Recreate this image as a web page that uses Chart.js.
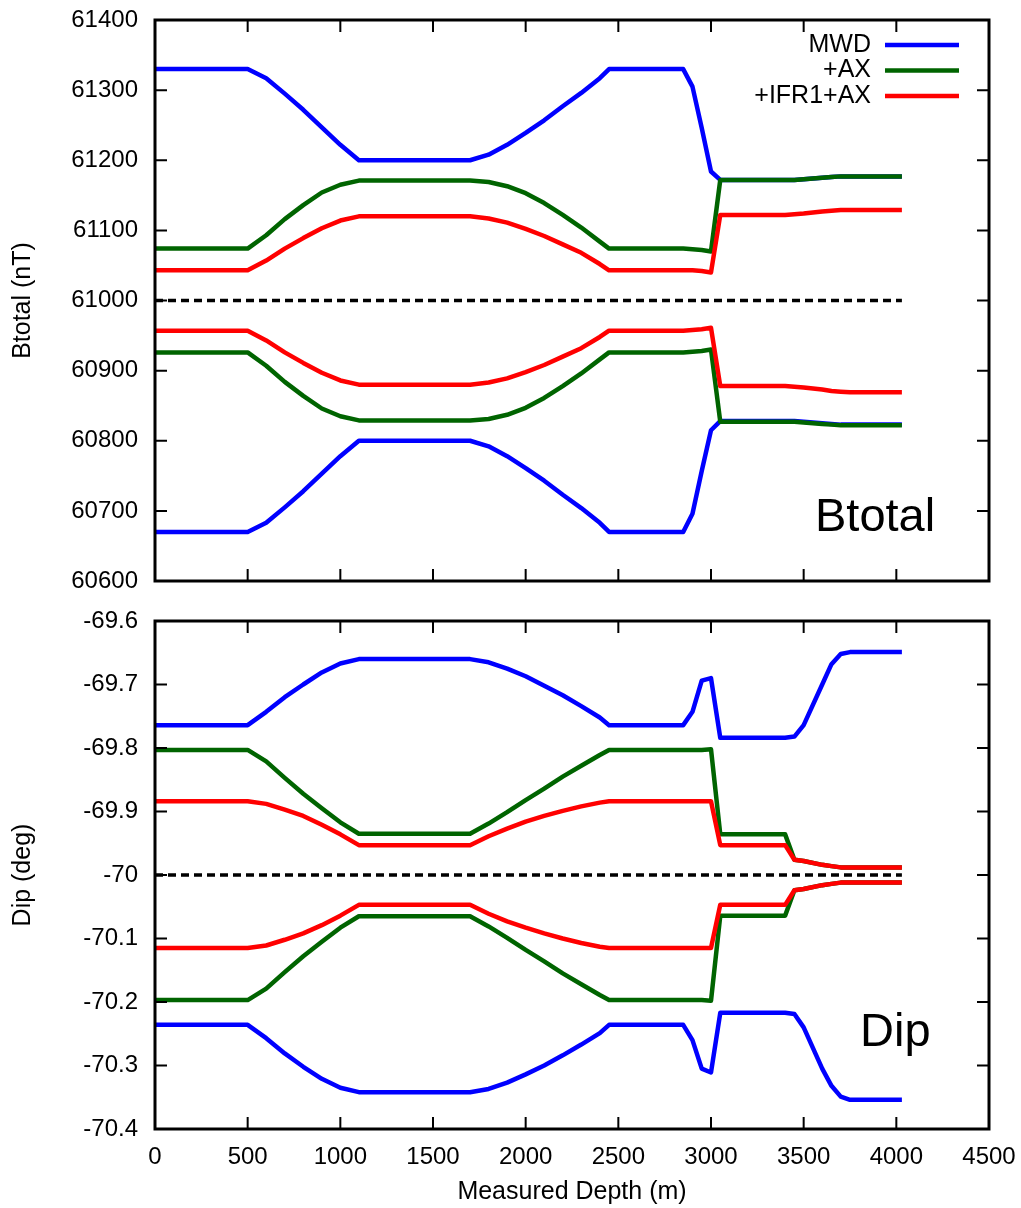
<!DOCTYPE html>
<html>
<head>
<meta charset="utf-8">
<title>Btotal and Dip vs measured depth</title>
<script src="https://cdn.jsdelivr.net/npm/chart.js"></script>
<style>
  body { margin: 0; background: #fff; }
  #wrap { position: relative; width: 1021px; height: 1208px; }
  canvas { position: absolute; left: 0; }
  #top { top: 0; }
  #bottom { top: 600px; }
</style>
</head>
<body>
<div id="wrap">
  <canvas id="top" width="1021" height="600"></canvas>
  <canvas id="bottom" width="1021" height="608"></canvas>
</div>
<script>
// measured depth (m) shared by every curve
const depth = [0, 500, 600, 700, 800, 900, 1000, 1100, 1700, 1800, 1900, 2000, 2100, 2200, 2300, 2400, 2450,
  2850, 2900, 2950, 3000, 3050, 3400, 3450, 3500, 3600, 3650, 3700, 3750, 4030];

const seriesNames = ["MWD", "+AX", "+IFR1+AX"];
const seriesColors = ["#0000ff", "#006400", "#ff0000"];

// Btotal (nT), upper and lower bound of each series
const btMwdHi = [61330, 61330, 61317, 61295, 61272, 61247, 61222, 61200, 61200, 61208, 61222, 61239, 61257, 61277, 61296, 61317, 61330,
  61330, 61305, 61246, 61184, 61172, 61172, 61172, 61173, 61175, 61176, 61177, 61177, 61177];
const btMwdLo = [60670, 60670, 60683, 60705, 60728, 60753, 60778, 60800, 60800, 60792, 60778, 60761, 60743, 60723, 60704, 60683, 60670,
  60670, 60696, 60757, 60815, 60828, 60828, 60828, 60827, 60825, 60824, 60823, 60823, 60823];
const btAxHi = [61074, 61074, 61093, 61116, 61136, 61154, 61165, 61171, 61171, 61169, 61163, 61153, 61139, 61122, 61104, 61084, 61074,
  61074, 61073, 61072, 61070, 61172, 61172, 61172, 61173, 61175, 61176, 61177, 61177, 61177];
const btAxLo = [60926, 60926, 60907, 60884, 60864, 60846, 60835, 60829, 60829, 60831, 60837, 60847, 60861, 60878, 60896, 60916, 60926,
  60926, 60927, 60928, 60930, 60827, 60827, 60827, 60826, 60824, 60823, 60822, 60822, 60822];
const btIfrHi = [61043, 61043, 61057, 61074, 61089, 61103, 61114, 61120, 61120, 61117, 61111, 61102, 61092, 61080, 61068, 61052, 61043,
  61043, 61043, 61042, 61040, 61122, 61122, 61123, 61124, 61127, 61128, 61129, 61129, 61129];
const btIfrLo = [60957, 60957, 60943, 60926, 60911, 60897, 60886, 60880, 60880, 60883, 60889, 60898, 60908, 60920, 60932, 60948, 60957,
  60957, 60958, 60959, 60961, 60878, 60878, 60877, 60876, 60873, 60871, 60870, 60869, 60869];

// Dip (deg)
const dipMwdHi = [-69.764, -69.764, -69.743, -69.720, -69.700, -69.681, -69.667, -69.660, -69.660, -69.665, -69.675, -69.687, -69.702, -69.717, -69.734, -69.752, -69.764,
  -69.764, -69.743, -69.694, -69.690, -69.784, -69.784, -69.782, -69.764, -69.700, -69.668, -69.652, -69.649, -69.649];
const dipMwdLo = [-70.236, -70.236, -70.257, -70.281, -70.302, -70.321, -70.335, -70.342, -70.342, -70.337, -70.327, -70.314, -70.300, -70.284, -70.267, -70.249, -70.236,
  -70.236, -70.260, -70.305, -70.311, -70.217, -70.217, -70.219, -70.240, -70.305, -70.332, -70.349, -70.354, -70.354];
const dipAxHi = [-69.803, -69.803, -69.821, -69.847, -69.872, -69.895, -69.917, -69.935, -69.935, -69.919, -69.901, -69.882, -69.864, -69.845, -69.828, -69.811, -69.803,
  -69.803, -69.803, -69.803, -69.802, -69.936, -69.936, -69.976, -69.978, -69.984, -69.986, -69.988, -69.988, -69.988];
const dipAxLo = [-70.197, -70.197, -70.179, -70.153, -70.128, -70.105, -70.083, -70.065, -70.065, -70.081, -70.099, -70.118, -70.136, -70.155, -70.172, -70.189, -70.197,
  -70.197, -70.197, -70.197, -70.198, -70.064, -70.064, -70.024, -70.022, -70.016, -70.014, -70.012, -70.012, -70.012];
const dipIfrHi = [-69.884, -69.884, -69.888, -69.897, -69.907, -69.921, -69.936, -69.953, -69.953, -69.939, -69.927, -69.916, -69.907, -69.899, -69.892, -69.886, -69.884,
  -69.884, -69.884, -69.884, -69.884, -69.953, -69.953, -69.976, -69.978, -69.984, -69.986, -69.988, -69.988, -69.988];
const dipIfrLo = [-70.115, -70.115, -70.111, -70.102, -70.092, -70.079, -70.064, -70.047, -70.047, -70.061, -70.073, -70.083, -70.092, -70.100, -70.107, -70.113, -70.115,
  -70.115, -70.115, -70.115, -70.115, -70.047, -70.047, -70.024, -70.022, -70.016, -70.014, -70.012, -70.012, -70.012];

// dashed reference (nominal value)
const refDepth = [0, 4030];
const btRef = [61000, 61000];
const dipRef = [-70, -70];

const FONT = "'Liberation Sans', Arial, Helvetica, sans-serif";
Chart.defaults.font.family = FONT;
Chart.defaults.color = "#000";

function pts(xs, ys) {
  return xs.map((d, i) => ({ x: d, y: ys[i] }));
}
function curve(ys, k) {
  return { data: pts(depth, ys), borderColor: seriesColors[k], borderWidth: 4.5, pointRadius: 0,
    tension: 0, order: 3 - k, borderJoinStyle: "round" };
}
function refLine(ys) {
  return { data: pts(refDepth, ys), borderColor: "#000", borderWidth: 3.5, borderDash: [8, 5],
    pointRadius: 0, order: 5 };
}

// inward gnuplot-style ticks plus a closed frame
const frame = {
  id: "frame",
  afterDatasetsDraw(chart) {
    const { ctx, chartArea: a, scales: { x, y } } = chart;
    const len = 12;
    ctx.save();
    ctx.strokeStyle = "#000";
    ctx.lineWidth = 2;
    ctx.beginPath();
    x.ticks.forEach(t => {
      const px = x.getPixelForValue(t.value);
      ctx.moveTo(px, a.bottom); ctx.lineTo(px, a.bottom - len);
      ctx.moveTo(px, a.top); ctx.lineTo(px, a.top + len);
    });
    y.ticks.forEach(t => {
      const py = y.getPixelForValue(t.value);
      ctx.moveTo(a.left, py); ctx.lineTo(a.left + len, py);
      ctx.moveTo(a.right, py); ctx.lineTo(a.right - len, py);
    });
    ctx.stroke();
    ctx.lineWidth = 3;
    ctx.strokeRect(a.left, a.top, a.right - a.left, a.bottom - a.top);
    ctx.restore();
  }
};

// legend: right-aligned text with a line sample after it
const keyBox = {
  id: "keyBox",
  afterDraw(chart) {
    const { ctx, chartArea: a } = chart;
    ctx.save();
    ctx.font = "25px " + FONT;
    ctx.textAlign = "right";
    ctx.textBaseline = "middle";
    seriesNames.forEach((name, i) => {
      const yy = a.top + 25 + i * 25.5;
      ctx.fillStyle = "#000";
      ctx.fillText(name, a.right - 118, yy);
      ctx.strokeStyle = seriesColors[i];
      ctx.lineWidth = 4.5;
      ctx.beginPath();
      ctx.moveTo(a.right - 104, yy);
      ctx.lineTo(a.right - 30, yy);
      ctx.stroke();
    });
    ctx.restore();
  }
};

function panelTag(text, dx, dy) {
  return {
    id: "tag",
    afterDraw(chart) {
      const { ctx, chartArea: a } = chart;
      ctx.save();
      ctx.font = "47px " + FONT;
      ctx.textAlign = "left";
      ctx.textBaseline = "middle";
      ctx.fillStyle = "#000";
      ctx.fillText(text, a.left + dx, a.bottom - dy);
      ctx.restore();
    }
  };
}

function scales(yMin, yMax, yStep, yTitle, fmt, bottomAxis) {
  return {
    x: {
      type: "linear", min: 0, max: 4500,
      grid: { display: false, drawTicks: false }, border: { display: false },
      ticks: { stepSize: 500, display: bottomAxis, padding: 14, font: { size: 24 },
        maxRotation: 0, callback: v => String(v) },
      title: { display: bottomAxis, text: "Measured Depth (m)", font: { size: 25 }, padding: { top: 0, bottom: 1 } },
      afterFit: s => { s.height = bottomAxis ? 79 : 19; s.paddingLeft = 0; s.paddingRight = 0; }
    },
    y: {
      min: yMin, max: yMax,
      grid: { display: false, drawTicks: false }, border: { display: false },
      ticks: { stepSize: yStep, padding: 17, font: { size: 24 }, callback: fmt },
      title: { display: true, text: yTitle, font: { size: 25 }, padding: { top: 8, bottom: 0 } },
      afterFit: s => { s.width = 155; s.paddingTop = 0; s.paddingBottom = 0; }
    }
  };
}

new Chart(document.getElementById("top"), {
  type: "line",
  data: {
    datasets: [
      curve(btMwdHi, 0), curve(btMwdLo, 0),
      curve(btAxHi, 1), curve(btAxLo, 1),
      curve(btIfrHi, 2), curve(btIfrLo, 2),
      refLine(btRef)
    ]
  },
  options: {
    responsive: false, animation: false,
    layout: { padding: { top: 20, right: 32, left: 0, bottom: 0 } },
    plugins: { legend: { display: false }, tooltip: { enabled: false } },
    scales: scales(60600, 61400, 100, "Btotal (nT)", v => String(v), false)
  },
  plugins: [frame, keyBox, panelTag("Btotal", 660, 63)]
});

new Chart(document.getElementById("bottom"), {
  type: "line",
  data: {
    datasets: [
      curve(dipMwdHi, 0), curve(dipMwdLo, 0),
      curve(dipAxHi, 1), curve(dipAxLo, 1),
      curve(dipIfrHi, 2), curve(dipIfrLo, 2),
      refLine(dipRef)
    ]
  },
  options: {
    responsive: false, animation: false,
    layout: { padding: { top: 21, right: 32, left: 0, bottom: 0 } },
    plugins: { legend: { display: false }, tooltip: { enabled: false } },
    scales: scales(-70.4, -69.6, 0.1, "Dip (deg)", v => String(Math.round(v * 10) / 10), true)
  },
  plugins: [frame, panelTag("Dip", 705, 96)]
});
</script>
</body>
</html>
